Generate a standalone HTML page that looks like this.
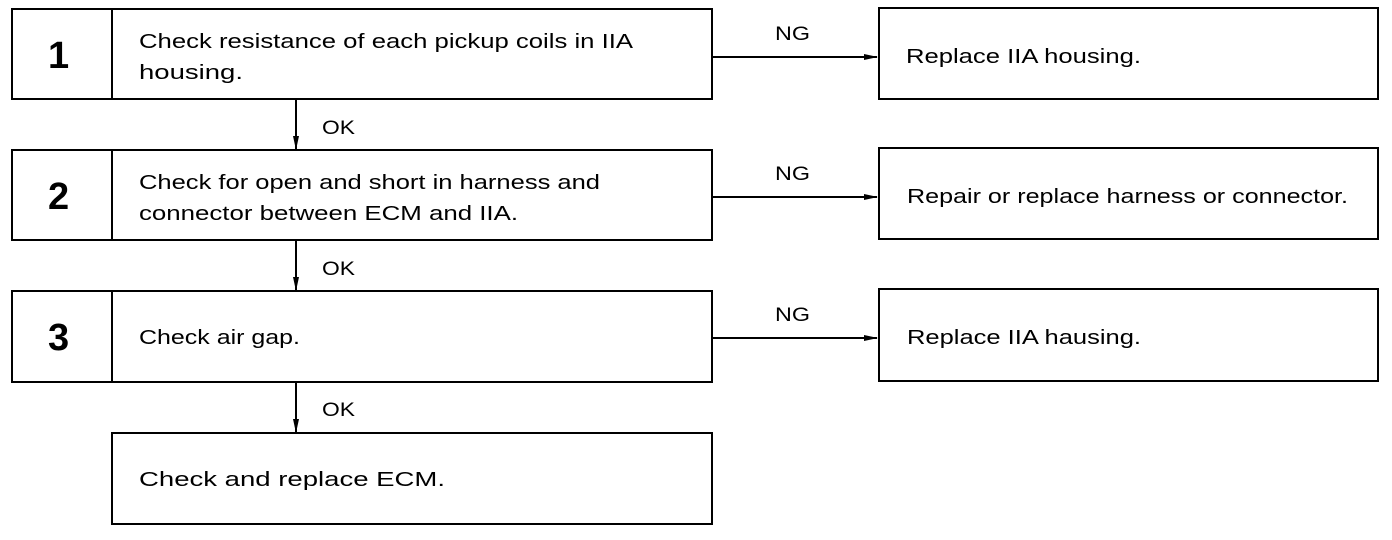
<!DOCTYPE html>
<html><head><meta charset="utf-8"><style>
html,body{margin:0;padding:0;background:#fff;}
svg{display:block}
text{font-family:"Liberation Sans",Arial,sans-serif;fill:#000;}
.t{font-size:20px;}
.n{font-size:38px;font-weight:bold;}
.l{font-size:19px;}
</style></head><body>
<svg width="1392" height="540" viewBox="0 0 1392 540" xmlns="http://www.w3.org/2000/svg">
<defs><marker id="a" markerWidth="14" markerHeight="8" refX="13" refY="4" orient="auto" markerUnits="userSpaceOnUse"><path d="M0,1 L14,4 L0,7 Z" fill="#000"/></marker>
<marker id="d" markerWidth="8" markerHeight="14" refX="4" refY="13" orient="0" markerUnits="userSpaceOnUse"><path d="M1,0 L4,14 L7,0 Z" fill="#000"/></marker></defs>
<g fill="none" stroke="#000" stroke-width="2">
<rect x="12" y="9" width="700" height="90"/><line x1="112" y1="9" x2="112" y2="99"/>
<rect x="12" y="150" width="700" height="90"/><line x1="112" y1="150" x2="112" y2="240"/>
<rect x="12" y="291" width="700" height="91"/><line x1="112" y1="291" x2="112" y2="382"/>
<rect x="112" y="433" width="600" height="91"/>
<rect x="879" y="8" width="499" height="91"/>
<rect x="879" y="148" width="499" height="91"/>
<rect x="879" y="289" width="499" height="92"/>
<line x1="712" y1="57" x2="877" y2="57" marker-end="url(#a)"/>
<line x1="712" y1="197" x2="877" y2="197" marker-end="url(#a)"/>
<line x1="712" y1="338" x2="877" y2="338" marker-end="url(#a)"/>
<line x1="296" y1="99" x2="296" y2="149" marker-end="url(#d)"/>
<line x1="296" y1="240" x2="296" y2="290" marker-end="url(#d)"/>
<line x1="296" y1="382" x2="296" y2="432" marker-end="url(#d)"/>
</g>
<text class="n" x="48" y="68">1</text>
<text class="n" x="48" y="209">2</text>
<text class="n" x="48" y="350">3</text>
<text class="t" x="139" y="48" textLength="494" lengthAdjust="spacingAndGlyphs">Check resistance of each pickup coils in IIA</text>
<text class="t" x="139" y="79" textLength="104" lengthAdjust="spacingAndGlyphs">housing.</text>
<text class="t" x="139" y="189" textLength="461" lengthAdjust="spacingAndGlyphs">Check for open and short in harness and</text>
<text class="t" x="139" y="220" textLength="379" lengthAdjust="spacingAndGlyphs">connector between ECM and IIA.</text>
<text class="t" x="139" y="344" textLength="161" lengthAdjust="spacingAndGlyphs">Check air gap.</text>
<text class="t" x="139" y="486" textLength="306" lengthAdjust="spacingAndGlyphs">Check and replace ECM.</text>
<text class="t" x="906" y="63" textLength="235" lengthAdjust="spacingAndGlyphs">Replace IIA housing.</text>
<text class="t" x="907" y="203" textLength="441" lengthAdjust="spacingAndGlyphs">Repair or replace harness or connector.</text>
<text class="t" x="907" y="344" textLength="234" lengthAdjust="spacingAndGlyphs">Replace IIA hausing.</text>
<text class="l" x="775" y="40" textLength="35" lengthAdjust="spacingAndGlyphs">NG</text>
<text class="l" x="775" y="180" textLength="35" lengthAdjust="spacingAndGlyphs">NG</text>
<text class="l" x="775" y="321" textLength="35" lengthAdjust="spacingAndGlyphs">NG</text>
<text class="l" x="322" y="134" textLength="33" lengthAdjust="spacingAndGlyphs">OK</text>
<text class="l" x="322" y="275" textLength="33" lengthAdjust="spacingAndGlyphs">OK</text>
<text class="l" x="322" y="416" textLength="33" lengthAdjust="spacingAndGlyphs">OK</text>
</svg>
</body></html>
